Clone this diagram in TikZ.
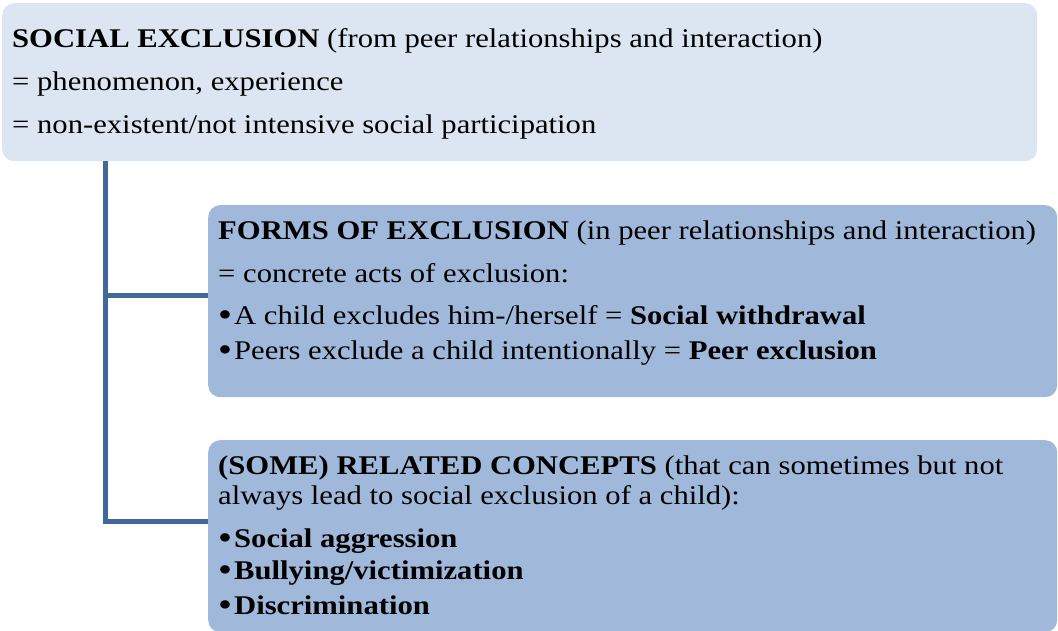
\documentclass[tikz,border=0pt]{standalone}
\usepackage{graphicx}
\usepackage{fontspec}
\setmainfont[FakeStretch=1.135]{Liberation Serif}
\usetikzlibrary{positioning}

\definecolor{paleblue}{RGB}{220,230,242}
\definecolor{midblue}{RGB}{160,185,218}
\definecolor{linkblue}{RGB}{66,104,154}

% list bullet
\newcommand\itemdot{\raisebox{-1.5pt}{\scalebox{1.3}{\textbullet}}\hspace{2pt}}

\begin{document}
\begin{tikzpicture}[x=1pt,y=-1pt]
\tikzset{
  panel/.style={rectangle,rounded corners=12pt,anchor=north west,inner sep=0pt},
  toppanel/.style={panel,fill=paleblue,minimum width=1035pt,minimum height=158pt},
  subpanel/.style={panel,fill=midblue,minimum width=849pt,minimum height=192pt},
  paneltext/.style={anchor=north west,align=left,inner sep=0pt,font=\fontsize{27}{33}\selectfont},
  link/.style={draw=linkblue,line width=5pt}
}
\useasboundingbox (0,0) rectangle (1058,631);

% the three panels
\node[toppanel] (p_top) at (2,3) {};
\node[subpanel] (p_forms) at (208,205) {};
\node[subpanel] (p_rel) at (208,440) {};

% connector from the top panel to the two lower ones
\draw[link] ([xshift=103pt]p_top.south west) |- ([yshift=6pt]p_forms.west);
\draw[link] ([xshift=103pt]p_top.south west) |- ([yshift=14.5pt]p_rel.west);

% panel texts
\node[paneltext] (t_top) at (12,28) {%
  \textbf{SOCIAL EXCLUSION} (from peer relationships and interaction)\\[10pt]
  = phenomenon, experience\\[10pt]
  = non-existent/not intensive social participation};
\node[paneltext] (t_forms) at (218,221) {%
  \textbf{FORMS OF EXCLUSION} (in peer relationships and interaction)\\[10pt]
  = concrete acts of exclusion:\\[9pt]
  \itemdot A child excludes him-/herself = \textbf{Social withdrawal}\\[2pt]
  \itemdot Peers exclude a child intentionally = \textbf{Peer exclusion}};
\node[paneltext] (t_rel) at (218,456) {%
  \textbf{(SOME) RELATED CONCEPTS} (that can sometimes but not\\[-3pt]
  always lead to social exclusion of a child):\\[10pt]
  \itemdot\textbf{Social aggression}\\[-1pt]
  \itemdot\textbf{Bullying/victimization}\\[2pt]
  \itemdot\textbf{Discrimination}};
\end{tikzpicture}
\end{document}
